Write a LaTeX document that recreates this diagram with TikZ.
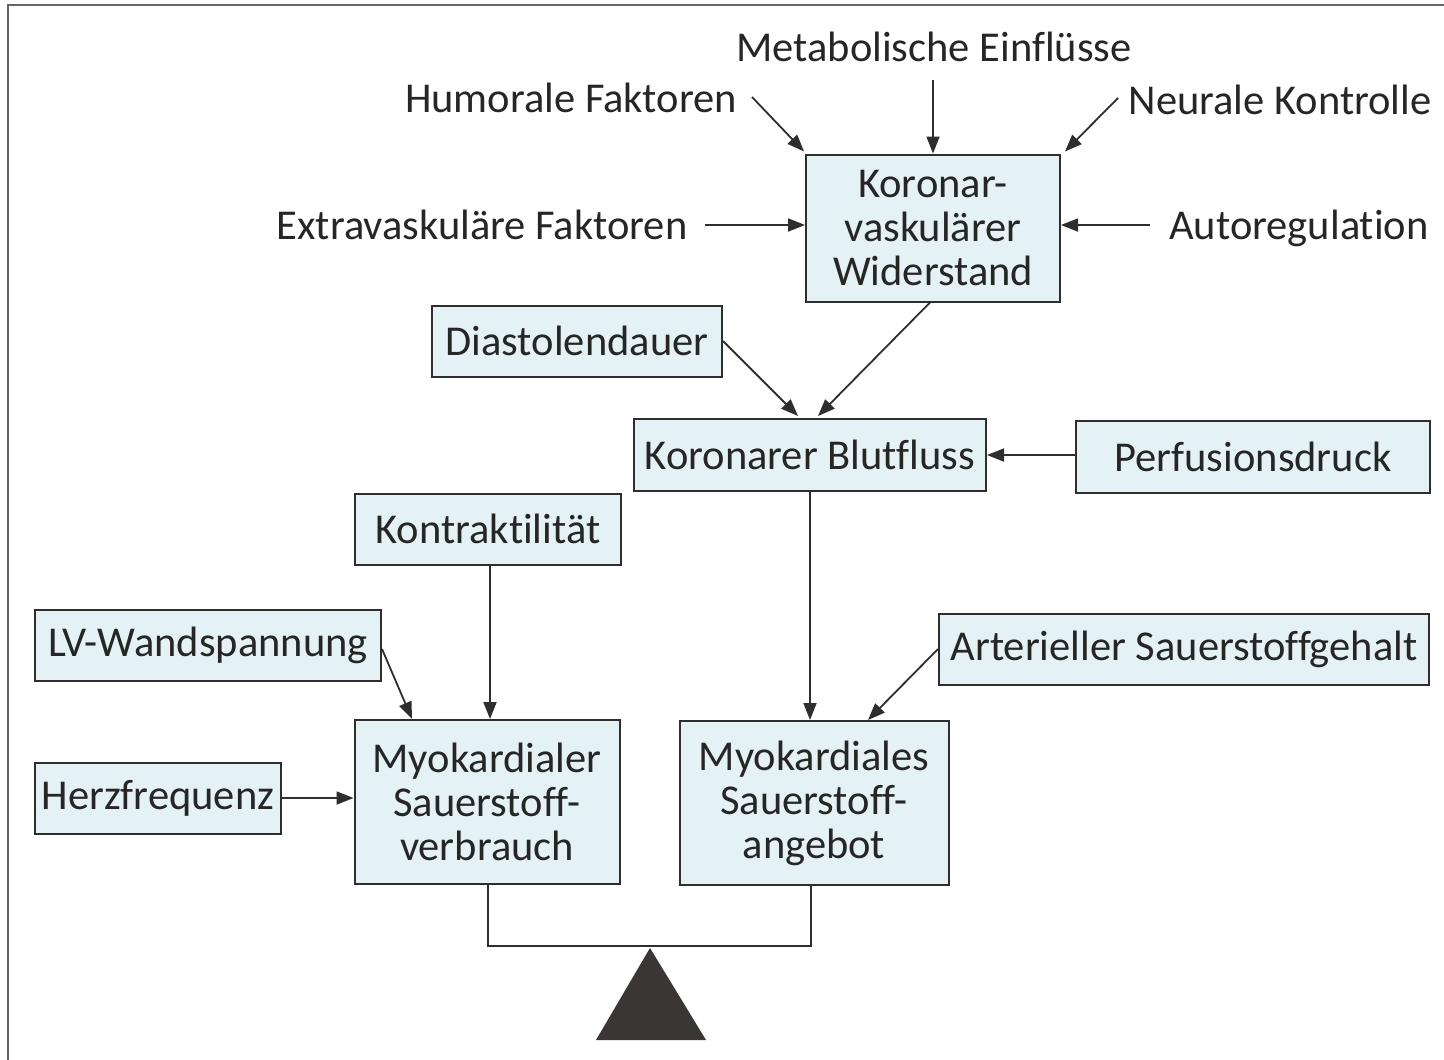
\documentclass[tikz,border=0pt]{standalone}
\usepackage{fontspec}
\setmainfont[Ligatures=NoCommon]{Carlito}
\usetikzlibrary{arrows.meta,calc}
\definecolor{boxfill}{HTML}{E4F1F5}
\definecolor{boxline}{HTML}{2E2E2E}
\definecolor{txt}{HTML}{262626}
\definecolor{tri}{HTML}{3A3636}
\newcommand{\fs}{\fontsize{42.5}{44}\selectfont}
\begin{document}
\begin{tikzpicture}[x=1pt,y=-1pt,
  box/.style={draw=boxline, fill=boxfill, line width=2pt, inner sep=0pt, align=center, font=\fs, text=txt},
  lbl/.style={inner sep=0pt, font=\fs, text=txt},
  arr/.style={draw=boxline, line width=1.8pt, -{Triangle[length=17pt,width=13pt]}},
  plain/.style={draw=boxline, line width=2pt}
]
\useasboundingbox (0,0) rectangle (1444,1060);
\draw[draw=gray!80!black, line width=1.5pt] (8,1060) -- (8,5) -- (1444,5);

% boxes
\node[box, minimum width=254pt, minimum height=147pt] (kvw) at (933,228) {Koronar-\\vaskulärer\\Widerstand};
\node[box, minimum width=290pt, minimum height=71pt] (dia) at (577,341) {Diastolendauer};
\node[box, minimum width=352pt, minimum height=72pt] (kbf) at (810,455) {Koronarer Blutfluss};
\node[box, minimum width=354pt, minimum height=72pt] (pd) at (1253,457) {Perfusionsdruck};
\node[box, minimum width=266pt, minimum height=71pt] (kon) at (488,529) {Kontraktilität};
\node[box, minimum width=346pt, minimum height=71pt] (lv) at (208,645) {LV-Wandspannung};
\node[box, minimum width=490pt, minimum height=71pt] (asg) at (1184,649) {Arterieller Sauerstoffgehalt};
\node[box, minimum width=246pt, minimum height=71pt] (hf) at (158,798) {Herzfrequenz};
\node[box, minimum width=265pt, minimum height=164pt] (msv) at (487,802) {Myokardialer\\Sauerstoff-\\verbrauch};
\node[box, minimum width=269pt, minimum height=164pt] (msa) at (814,803) {Myokardiales\\Sauerstoff-\\angebot};

% free labels
\node[lbl] (met) at (934,47) {Metabolische Einflüsse};
\node[lbl] (hum) at (571,98) {Humorale Faktoren};
\node[lbl] (neu) at (1280,100) {Neurale Kontrolle};
\node[lbl] (ext) at (482,225) {Extravaskuläre Faktoren};
\node[lbl] (aut) at (1299,228) {Autoregulation};

% free arrow starts
\coordinate (metS) at (933,80);
\coordinate (humS) at (752,97);
\coordinate (neuS) at (1118,98);
\coordinate (extS) at (705,225);
\coordinate (autS) at (1150,225);

\draw[arr] (metS) -- (metS |- kvw.north);
\draw[arr] (humS) -- ([xshift=-1pt,yshift=2pt]kvw.north west);
\draw[arr] (neuS) -- ([xshift=4pt,yshift=2pt]kvw.north east);
\draw[arr] (extS) -- (extS -| kvw.west);
\draw[arr] (autS) -- (autS -| kvw.east);

\draw[arr] ([xshift=-3pt]kvw.south) -- ([xshift=8pt,yshift=2pt]kbf.north);
\draw[arr] (dia.east) -- ([xshift=-12pt,yshift=2pt]kbf.north);
\draw[arr] (pd.west |- kbf.east) -- (kbf.east);
\draw[arr] (kbf.south) -- (kbf.south |- msa.north);
\draw[arr] (asg.west) -- ([xshift=54pt]msa.north);
\draw[arr] ([xshift=2pt]kon.south) -- ([xshift=2pt]kon.south |- msv.north);
\draw[arr] ([yshift=-4pt]lv.east) -- ([xshift=-75pt]msv.north);
\draw[arr] (hf.east) -- (hf.east -| msv.west);

% balance
\draw[plain] ([xshift=1pt]msv.south) -- ++(0,61) coordinate (bl) -| ([xshift=-3pt]msa.south);
\fill[tri] (650,948) -- (706,1040) -- (596,1040) -- cycle;
\end{tikzpicture}
\end{document}
